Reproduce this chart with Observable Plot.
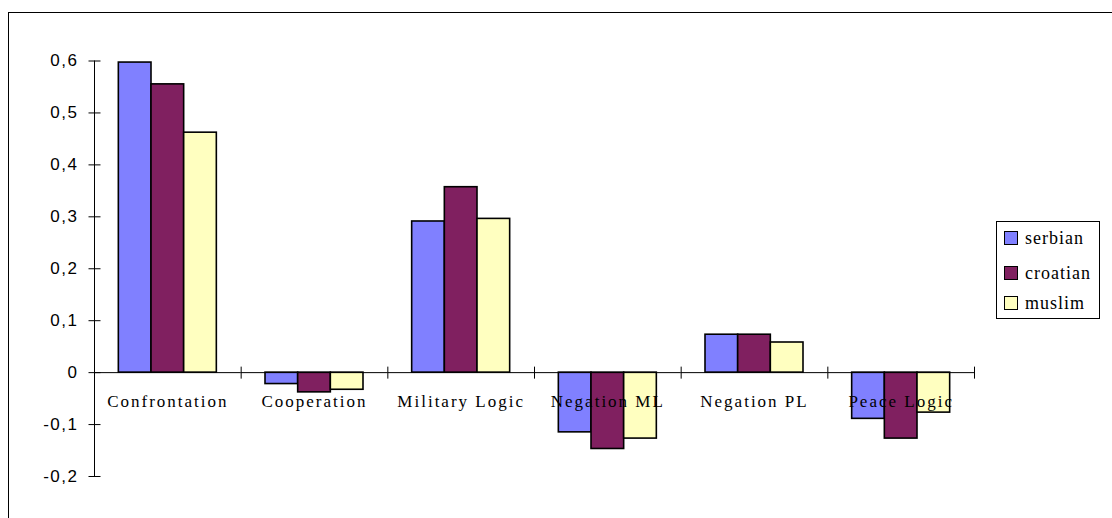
<!DOCTYPE html>
<html>
<head>
<meta charset="utf-8">
<script src="https://cdn.jsdelivr.net/npm/d3@7"></script>
<script src="https://cdn.jsdelivr.net/npm/@observablehq/plot@0.6"></script>
<style>
  html, body { margin: 0; padding: 0; background: #fff; }
  #wrap { position: relative; width: 1112px; height: 518px; overflow: hidden; background: #fff; }
  #outer { position: absolute; left: 8px; top: 12px; width: 1200px; height: 600px; border-left: 1px solid #000; border-top: 1px solid #000; }
  #chart { position: absolute; left: 0; top: 0; }
  #legend { position: absolute; left: 996px; top: 221px; width: 102px; height: 96px; border: 1px solid #000; background: #fff;
            font-family: "Liberation Serif", "Times New Roman", serif; font-size: 18px; letter-spacing: 1px; color: #000; }
  .row { position: absolute; left: 7px; display: flex; align-items: center; line-height: 14px; }
  .sw { width: 14px; height: 14px; border: 1.5px solid #000; box-sizing: border-box; margin-right: 7px; flex: none; }
  g[aria-label="text"] text { letter-spacing: 2px; }
  g[aria-label="y-axis tick label"] text { letter-spacing: 1.5px; }
</style>
</head>
<body>
<div id="wrap">
  <div id="outer"></div>
  <div id="chart"></div>
  <div id="legend"></div>
</div>
<script>
const categories = ["Confrontation", "Cooperation", "Military Logic", "Negation ML", "Negation PL", "Peace Logic"];
const series = ["serbian", "croatian", "muslim"];
const colors = ["#8080ff", "#802060", "#ffffc0"];
const serbianValues  = [0.597, -0.022, 0.291, -0.115, 0.073, -0.089];
const croatianValues = [0.555, -0.038, 0.357, -0.147, 0.073, -0.127];
const muslimValues   = [0.462, -0.033, 0.296, -0.127, 0.058, -0.077];
const yTicks = [-0.2, -0.1, 0, 0.1, 0.2, 0.3, 0.4, 0.5, 0.6];

const valuesBySeries = [serbianValues, croatianValues, muslimValues];
const data = categories.flatMap((c, i) =>
  series.map((s, j) => ({category: c, series: s, value: valuesBySeries[j][i]})));

const vTick = {draw(ctx, size) { const r = Math.sqrt(size / Math.PI); ctx.moveTo(0, -r); ctx.lineTo(0, r); }};
const hTick = {draw(ctx, size) { const r = Math.sqrt(size / Math.PI); ctx.moveTo(-r, 0); ctx.lineTo(r, 0); }};
const fmt = d => d === 0 ? "0" : d3.format(".1f")(d).replace("−", "-").replace(".", ",");

const chart = Plot.plot({
  width: 1112,
  height: 518,
  marginLeft: 94,
  marginRight: 138,
  marginTop: 60.5,
  marginBottom: 42,
  style: {fontSize: "17px", fontFamily: "'Liberation Sans', Arial, sans-serif", background: "transparent", color: "#000"},
  fx: {domain: categories, padding: 0, round: false, axis: null},
  x: {domain: series, paddingInner: 0, paddingOuter: 0.745, round: false, axis: null},
  y: {domain: [-0.2, 0.6], ticks: yTicks, tickFormat: fmt, tickSize: 0, tickPadding: 16, line: true, label: null},
  color: {domain: series, range: colors},
  marks: [
    Plot.barY(data, {fx: "category", x: "series", y: "value", fill: "series", stroke: "#000", strokeWidth: 1.6}),
    Plot.ruleY([0], {stroke: "#000", strokeWidth: 1}),
    Plot.dot(categories, {fx: d => d, y: () => 0, frameAnchor: "left", symbol: vTick, r: 6, fill: "none", stroke: "#000", strokeWidth: 1}),
    Plot.dot([categories[categories.length - 1]], {fx: d => d, y: () => 0, frameAnchor: "right", symbol: vTick, r: 6, fill: "none", stroke: "#000", strokeWidth: 1}),
    Plot.dot(yTicks, {fx: () => categories[0], y: d => d, frameAnchor: "left", symbol: hTick, r: 6, fill: "none", stroke: "#000", strokeWidth: 1}),
    Plot.text(categories, {fx: d => d, y: () => 0, text: d => d, dy: 29, fontFamily: "'Liberation Serif', 'Times New Roman', serif", fontSize: 17, fill: "#000"})
  ]
});
document.getElementById("chart").appendChild(chart);

const legend = document.getElementById("legend");
const rowTops = [9, 44, 74];
series.forEach((s, i) => {
  const row = document.createElement("div");
  row.className = "row";
  row.style.top = rowTops[i] + "px";
  const sw = document.createElement("div");
  sw.className = "sw";
  sw.style.background = colors[i];
  const label = document.createElement("span");
  label.textContent = s;
  row.appendChild(sw);
  row.appendChild(label);
  legend.appendChild(row);
});
</script>
</body>
</html>
